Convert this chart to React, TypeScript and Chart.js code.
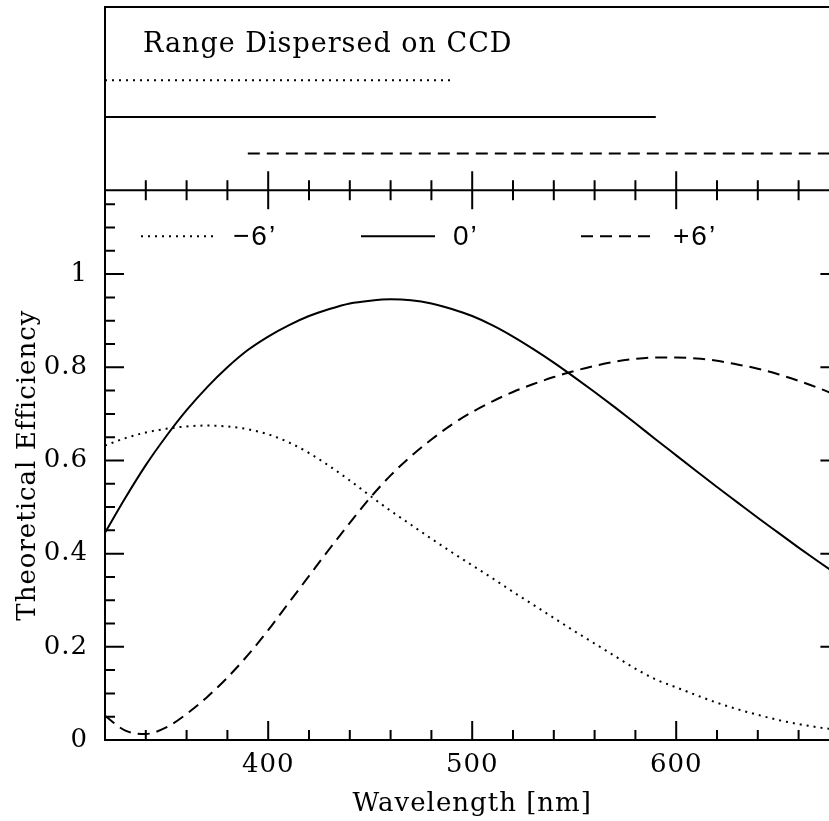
import React, { useEffect, useRef } from 'react';
import { Chart, registerables } from 'chart.js';

Chart.register(...registerables);

// ---- data ----
const wavelengths = [
  320, 330, 340, 350, 360, 370, 380, 390, 400, 410, 420, 430, 440, 450, 460, 470, 480, 490, 500,
  510, 520, 530, 540, 550, 560, 570, 580, 590, 600, 610, 620, 630, 640, 650, 660, 670, 680,
];
const effMinus6 = [
  0.632, 0.648, 0.660, 0.668, 0.673, 0.675, 0.673, 0.667, 0.656, 0.639, 0.616, 0.588, 0.557, 0.524,
  0.492, 0.462, 0.432, 0.403, 0.375, 0.347, 0.318, 0.290, 0.262, 0.234, 0.207, 0.180, 0.153, 0.130,
  0.113, 0.096, 0.080, 0.066, 0.054, 0.043, 0.034, 0.027, 0.021,
];
const effZero = [
  0.445, 0.520, 0.590, 0.652, 0.708, 0.757, 0.800, 0.837, 0.866, 0.890, 0.910, 0.925, 0.937, 0.943,
  0.946, 0.944, 0.937, 0.925, 0.910, 0.890, 0.866, 0.839, 0.810, 0.779, 0.747, 0.714, 0.680, 0.645,
  0.611, 0.577, 0.543, 0.510, 0.477, 0.445, 0.413, 0.382, 0.352,
];
const effPlus6 = [
  0.052, 0.020, 0.013, 0.027, 0.056, 0.092, 0.134, 0.182, 0.236, 0.294, 0.352, 0.410, 0.466, 0.520,
  0.568, 0.609, 0.645, 0.677, 0.704, 0.727, 0.747, 0.764, 0.779, 0.792, 0.803, 0.812, 0.818, 0.821,
  0.821, 0.819, 0.814, 0.806, 0.797, 0.785, 0.771, 0.755, 0.737,
];
const seriesLabels = ['\u22126\u2019', '0\u2019', '+6\u2019'];
const rangeStart = [320, 320, 390];
const rangeEnd = [490, 590, 680];
const rangeLevel = [3, 2, 1];
const xTickValues = [400, 500, 600];
const xTickLabels = ['400', '500', '600'];
const yTickValues = [0, 0.2, 0.4, 0.6, 0.8, 1];
const yTickLabels = ['0', '0.2', '0.4', '0.6', '0.8', '1'];
const xMin = 320;
const xMax = 680;
const yMax = 1.18;
const panelTitle = 'Range Dispersed on CCD';
const xTitle = 'Wavelength [nm]';
const yTitle = 'Theoretical Efficiency';

// ---- styles ----
const dashes: number[][] = [[2, 5], [], [12, 7]];
const SERIF = '"DejaVu Serif", serif';
const SANS = '"Liberation Sans", Arial, sans-serif';

const noPad = (s: any) => {
  s.paddingTop = 0;
  s.paddingBottom = 0;
  s.paddingLeft = 0;
  s.paddingRight = 0;
};

const decorPlugin = {
  id: 'decor',
  beforeUpdate(chart: any) {
    chart.ctx.letterSpacing = '1px';
  },
  beforeDraw(chart: any) {
    chart.ctx.letterSpacing = '1px';
  },
  afterDatasetsDraw(chart: any) {
    const { ctx, chartArea: a, scales } = chart;
    const xs = scales.x;
    const ys = scales.y;
    const yr = scales.yr;
    const div = ys.top;
    ctx.save();
    ctx.setLineDash([]);
    ctx.strokeStyle = '#000';
    ctx.lineWidth = 2;
    ctx.lineCap = 'butt';
    ctx.beginPath();
    ctx.rect(a.left, a.top, a.right - a.left, a.bottom - a.top);
    ctx.moveTo(a.left, div);
    ctx.lineTo(a.right, div);
    for (let v = xMin + 20; v < xMax; v += 20) {
      const px = xs.getPixelForValue(v);
      const L = v % 100 === 0 ? 19 : 10;
      ctx.moveTo(px, a.bottom);
      ctx.lineTo(px, a.bottom - L);
      ctx.moveTo(px, div - L);
      ctx.lineTo(px, div + L);
    }
    for (let k = 1; k * 0.05 < yMax; k++) {
      const py = ys.getPixelForValue(k * 0.05);
      const L = k % 4 === 0 ? 19 : 10;
      ctx.moveTo(a.left, py);
      ctx.lineTo(a.left + L, py);
      ctx.moveTo(a.right, py);
      ctx.lineTo(a.right - L, py);
    }
    ctx.stroke();

    // panel title
    ctx.fillStyle = '#000';
    ctx.font = '27px ' + SERIF;
    ctx.letterSpacing = '1px';
    ctx.textAlign = 'left';
    ctx.textBaseline = 'alphabetic';
    ctx.fillText(panelTitle, a.left + 38, yr.top + 45);

    // legend
    const ly = div + 46;
    ctx.font = '28px ' + SANS;
    ctx.letterSpacing = '2px';
    ctx.textBaseline = 'middle';
    for (let i = 0; i < seriesLabels.length; i++) {
      const sx = a.left + 36 + i * 220;
      ctx.beginPath();
      ctx.setLineDash(dashes[i]);
      ctx.moveTo(sx, ly);
      ctx.lineTo(sx + 74, ly);
      ctx.stroke();
      ctx.setLineDash([]);
      ctx.fillText(seriesLabels[i], sx + 92, ly + 1);
    }
    ctx.restore();
  },
};

export default function App() {
  const ref = useRef<HTMLCanvasElement>(null);

  useEffect(() => {
    const canvas = ref.current;
    if (!canvas) return;
    const effSeries = [effMinus6, effZero, effPlus6];
    const curveSets = effSeries.map((vals, i) => ({
      type: 'line' as const,
      label: seriesLabels[i],
      data: wavelengths.map((w, j) => ({ x: w, y: vals[j] })),
      borderColor: '#000',
      borderWidth: 2,
      borderDash: dashes[i],
      pointRadius: 0,
      fill: false,
      cubicInterpolationMode: 'monotone' as const,
      xAxisID: 'x',
      yAxisID: 'y',
    }));
    const rangeSets = rangeStart.map((s, i) => ({
      type: 'line' as const,
      label: 'range ' + seriesLabels[i],
      data: [
        { x: s, y: rangeLevel[i] },
        { x: rangeEnd[i], y: rangeLevel[i] },
      ],
      borderColor: '#000',
      borderWidth: 2,
      borderDash: dashes[i],
      pointRadius: 0,
      fill: false,
      xAxisID: 'x',
      yAxisID: 'yr',
    }));

    const chart = new Chart(canvas, {
      type: 'line',
      data: { datasets: [...curveSets, ...rangeSets] as any },
      options: {
        animation: false,
        responsive: false,
        devicePixelRatio: 1,
        events: [],
        layout: { padding: { left: 0, top: 7, right: 10.6, bottom: 0 } },
        plugins: {
          legend: { display: false },
          tooltip: { enabled: false },
          title: { display: false },
        },
        scales: {
          x: {
            type: 'linear',
            min: xMin,
            max: xMax,
            position: 'bottom',
            grid: { display: false, drawTicks: false },
            border: { display: false },
            ticks: {
              color: '#000',
              font: { family: SERIF, size: 26 },
              padding: 10,
              maxRotation: 0,
              autoSkip: false,
              callback: (_v: any, i: number) => xTickLabels[i],
            },
            afterBuildTicks: (s: any) => {
              s.ticks = xTickValues.map((v) => ({ value: v }));
            },
            afterFit: (s: any) => {
              s.height = 81;
              noPad(s);
            },
            title: {
              display: true,
              text: xTitle,
              color: '#000',
              font: { family: SERIF, size: 26 },
              padding: { top: 0, bottom: 1 },
            },
          },
          y: {
            type: 'linear',
            min: 0,
            max: yMax,
            position: 'left',
            stack: 'panels',
            stackWeight: 3,
            weight: 0,
            grid: { display: false, drawTicks: false },
            border: { display: false },
            ticks: {
              color: '#000',
              font: { family: SERIF, size: 26 },
              padding: 17,
              autoSkip: false,
              callback: (_v: any, i: number) => yTickLabels[i],
            },
            afterBuildTicks: (s: any) => {
              s.ticks = yTickValues.map((v) => ({ value: v }));
            },
            afterFit: (s: any) => {
              s.width = 105;
              noPad(s);
            },
            title: {
              display: true,
              text: yTitle,
              color: '#000',
              font: { family: SERIF, size: 26 },
              padding: { top: 13, bottom: 0 },
            },
          },
          yr: {
            type: 'linear',
            min: 0,
            max: 5,
            position: 'left',
            stack: 'panels',
            stackWeight: 1,
            weight: 1,
            grid: { display: false, drawTicks: false },
            border: { display: false },
            ticks: { display: false },
            afterFit: (s: any) => {
              s.width = 105;
              noPad(s);
            },
          },
        },
      } as any,
      plugins: [decorPlugin],
    });
    return () => chart.destroy();
  }, []);

  return (
    <div
      style={{
        position: 'fixed',
        left: 0,
        top: 0,
        width: 829,
        height: 821,
        overflow: 'hidden',
        background: '#fff',
      }}
    >
      <canvas ref={ref} width={850} height={821} style={{ display: 'block', width: 850, height: 821 }} />
    </div>
  );
}
